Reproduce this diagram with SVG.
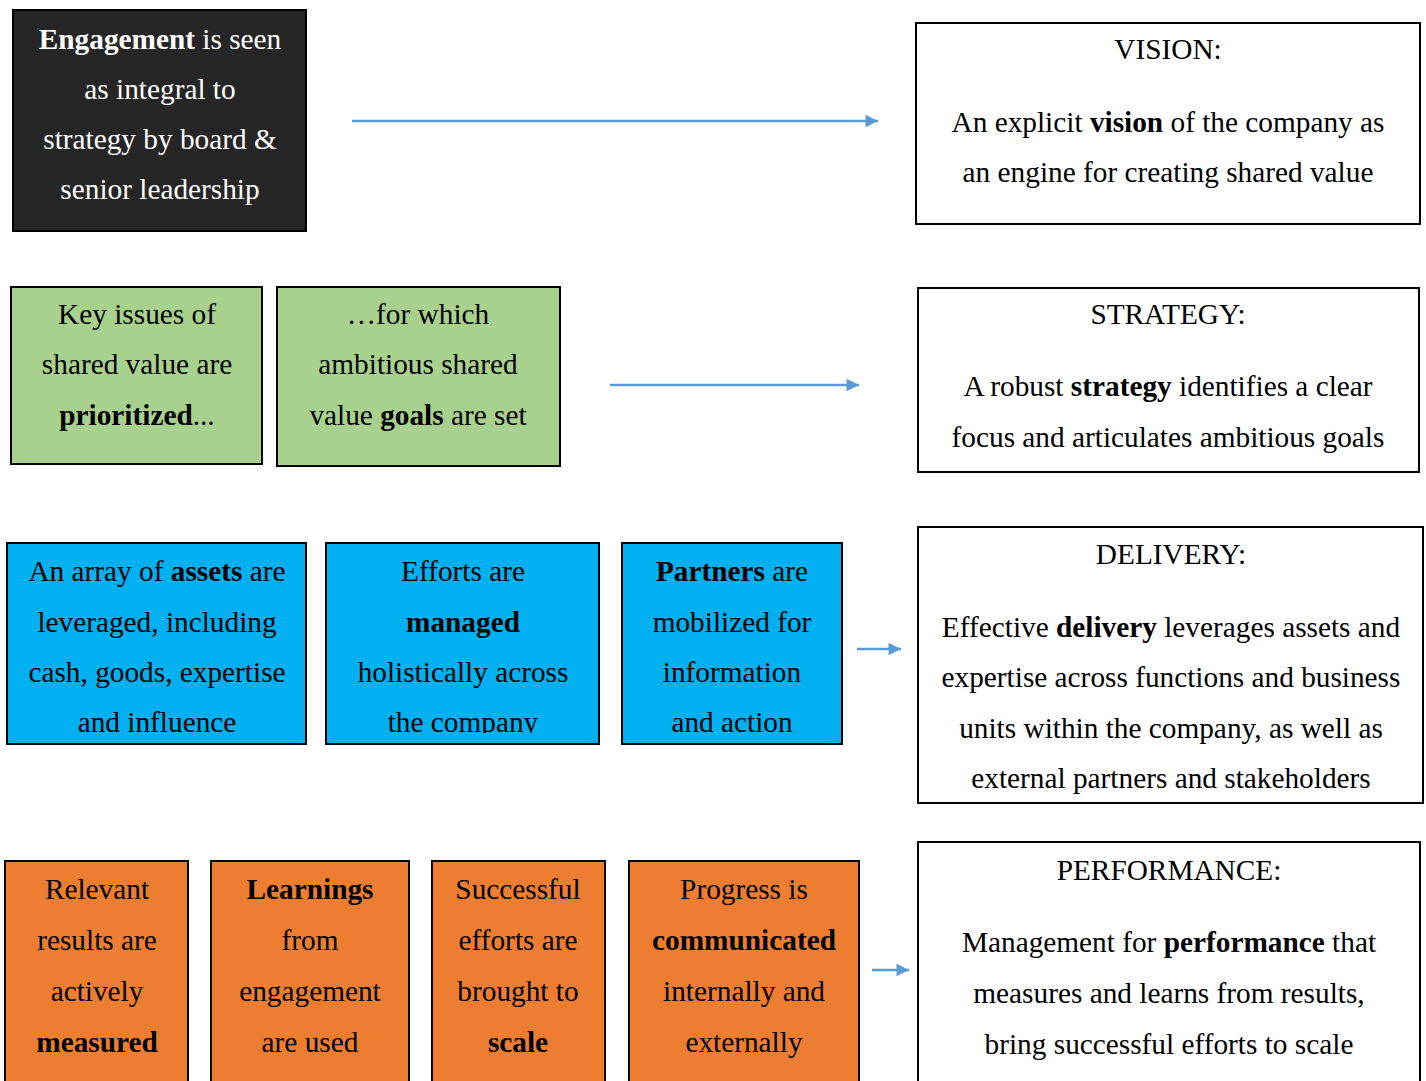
<svg xmlns="http://www.w3.org/2000/svg" width="1426" height="1081" viewBox="0 0 1426 1081">
<style>
text{text-anchor:middle;fill:#000}
.w{fill:#fff}
.b{font-weight:bold}
.box{stroke:#000;stroke-width:2}
.blk{fill:#262626}
.grn{fill:#a9d18e}
.blu{fill:#00b0f0}
.org{fill:#ed7d31}
.wht{fill:#fff}
.conn line{stroke:#5b9bd5;stroke-width:2.5}
</style>
<defs>
<marker id="ah" viewBox="0 0 10 10" refX="10" refY="5" markerWidth="6" markerHeight="5" markerUnits="strokeWidth" orient="auto"><path d="M0,0 L10,5 L0,10 Z" fill="#5b9bd5"/></marker>
<clipPath id="cl2"><rect x="326" y="543" width="273" height="190"/></clipPath>
</defs>
<rect width="1426" height="1081" fill="#fff"/>
<g font-family="Liberation Serif, serif" font-size="29.3">
<g id="engagement">
<rect class="box blk" x="13" y="10" width="293" height="221"/>
<text class="w" x="160" y="49"><tspan class="b">Engagement</tspan> is seen</text>
<text class="w" x="160" y="99">as integral to</text>
<text class="w" x="160" y="149">strategy by board &amp;</text>
<text class="w" x="160" y="199">senior leadership</text>
</g>

<g id="vision">
<rect class="box wht" x="916" y="23" width="504" height="201"/>
<text x="1168" y="59">VISION:</text>
<text x="1168" y="132">An explicit <tspan class="b">vision</tspan> of the company as</text>
<text x="1168" y="182">an engine for creating shared value</text>
</g>

<g id="key-issues">
<rect class="box grn" x="11" y="287" width="251" height="177"/>
<text x="137" y="324">Key issues of</text>
<text x="137" y="374">shared value are</text>
<text x="137" y="425"><tspan class="b">prioritized</tspan>...</text>
</g>

<g id="goals">
<rect class="box grn" x="277" y="287" width="283" height="179"/>
<text x="418" y="324">…for which</text>
<text x="418" y="374">ambitious shared</text>
<text x="418" y="425">value <tspan class="b">goals</tspan> are set</text>
</g>

<g id="strategy">
<rect class="box wht" x="918" y="288" width="501" height="184"/>
<text x="1168" y="324">STRATEGY:</text>
<text x="1168" y="396">A robust <tspan class="b">strategy</tspan> identifies a clear</text>
<text x="1168" y="447">focus and articulates ambitious goals</text>
</g>

<g id="assets">
<rect class="box blu" x="7" y="543" width="299" height="201"/>
<text x="157" y="581">An array of <tspan class="b">assets</tspan> are</text>
<text x="157" y="632">leveraged, including</text>
<text x="157" y="682">cash, goods, expertise</text>
<text x="157" y="732">and influence</text>
</g>

<g id="efforts">
<rect class="box blu" x="326" y="543" width="273" height="201"/>
<g clip-path="url(#cl2)">
<text x="463" y="581">Efforts are</text>
<text x="463" y="632" class="b">managed</text>
<text x="463" y="682">holistically across</text>
<text x="463" y="732">the company</text>
</g>
</g>

<g id="partners">
<rect class="box blu" x="622" y="543" width="220" height="201"/>
<text x="732" y="581"><tspan class="b">Partners</tspan> are</text>
<text x="732" y="632">mobilized for</text>
<text x="732" y="682">information</text>
<text x="732" y="732">and action</text>
</g>

<g id="delivery">
<rect class="box wht" x="918" y="527" width="505" height="276"/>
<text x="1171" y="564">DELIVERY:</text>
<text x="1171" y="637">Effective <tspan class="b">delivery</tspan> leverages assets and</text>
<text x="1171" y="687">expertise across functions and business</text>
<text x="1171" y="738">units within the company, as well as</text>
<text x="1171" y="788">external partners and stakeholders</text>
</g>

<g id="measured">
<rect class="box org" x="5" y="861" width="183" height="230"/>
<text x="97" y="899">Relevant</text>
<text x="97" y="950">results are</text>
<text x="97" y="1001">actively</text>
<text x="97" y="1052" class="b">measured</text>
</g>

<g id="learnings">
<rect class="box org" x="211" y="861" width="198" height="230"/>
<text x="310" y="899" class="b">Learnings</text>
<text x="310" y="950">from</text>
<text x="310" y="1001">engagement</text>
<text x="310" y="1052">are used</text>
</g>

<g id="scale">
<rect class="box org" x="432" y="861" width="173" height="230"/>
<text x="518" y="899">Successful</text>
<text x="518" y="950">efforts are</text>
<text x="518" y="1001">brought to</text>
<text x="518" y="1052" class="b">scale</text>
</g>

<g id="communicated">
<rect class="box org" x="629" y="861" width="230" height="230"/>
<text x="744" y="899">Progress is</text>
<text x="744" y="950" class="b">communicated</text>
<text x="744" y="1001">internally and</text>
<text x="744" y="1052">externally</text>
</g>

<g id="performance">
<rect class="box wht" x="918" y="842" width="502" height="250"/>
<text x="1169" y="880">PERFORMANCE:</text>
<text x="1169" y="952">Management for <tspan class="b">performance</tspan> that</text>
<text x="1169" y="1003">measures and learns from results,</text>
<text x="1169" y="1054">bring successful efforts to scale</text>
</g>
</g>
<g id="connectors" class="conn">
<line x1="352" y1="121" x2="878" y2="121" marker-end="url(#ah)"/>
<line x1="610" y1="385" x2="859" y2="385" marker-end="url(#ah)"/>
<line x1="857" y1="649" x2="901" y2="649" marker-end="url(#ah)"/>
<line x1="872" y1="970" x2="909" y2="970" marker-end="url(#ah)"/>
</g>
</svg>
